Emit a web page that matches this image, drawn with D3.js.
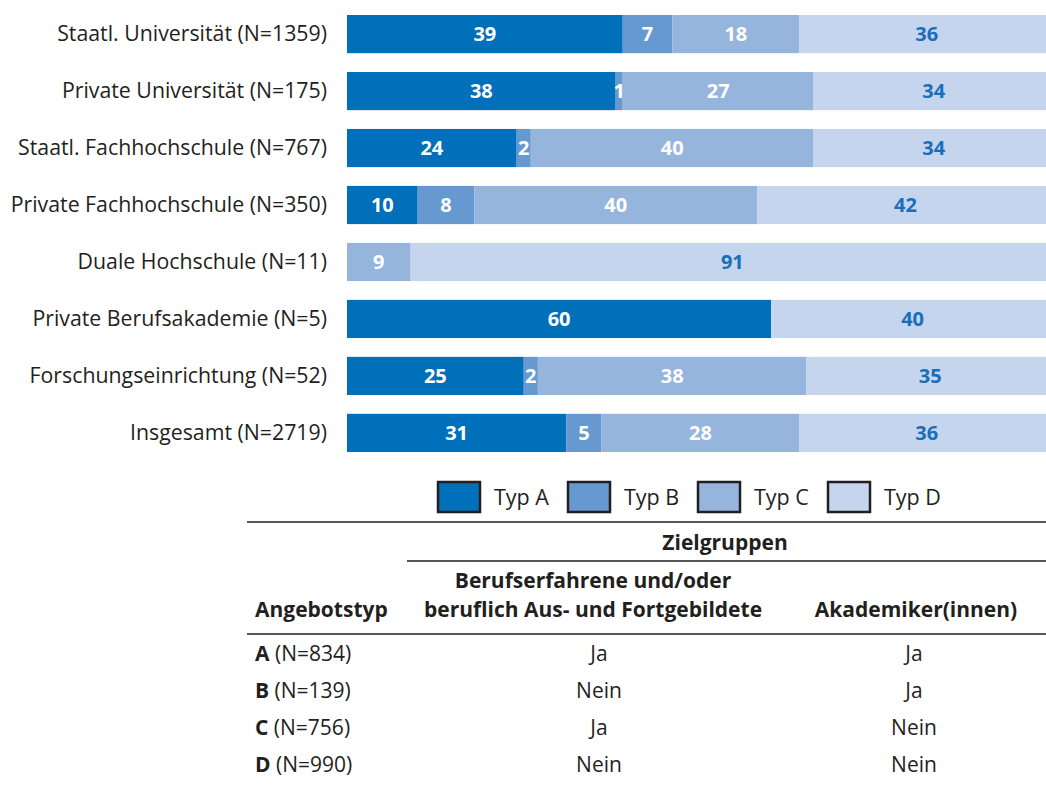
<!DOCTYPE html>
<html>
<head>
<meta charset="utf-8">
<script src="https://cdn.jsdelivr.net/npm/d3@7"></script>
<style>
  body { margin: 0; background: #fff; }
  svg text { font-family: "Open Sans", "Noto Sans", sans-serif; }
</style>
</head>
<body>
<div id="chart"></div>
<script>
// chart data
var categories = [
  "Staatl. Universität (N=1359)",
  "Private Universität (N=175)",
  "Staatl. Fachhochschule (N=767)",
  "Private Fachhochschule (N=350)",
  "Duale Hochschule (N=11)",
  "Private Berufsakademie (N=5)",
  "Forschungseinrichtung (N=52)",
  "Insgesamt (N=2719)"
];
var typA = [39, 38, 24, 10, 0, 60, 25, 31];
var typB = [7, 1, 2, 8, 0, 0, 2, 5];
var typC = [18, 27, 40, 40, 9, 0, 38, 28];
var typD = [36, 34, 34, 42, 91, 40, 35, 36];
var seriesNames = ["Typ A", "Typ B", "Typ C", "Typ D"];

// table data
var angebotstyp = ["A", "B", "C", "D"];
var angebotN = [834, 139, 756, 990];
var berufserfahrene = ["Ja", "Nein", "Ja", "Nein"];
var akademiker = ["Ja", "Ja", "Nein", "Nein"];

var colors = ["#0070ba", "#6699d0", "#96b5dd", "#c6d5ee"];
var labelColors = ["#fff", "#fff", "#fff", "#1a6fb8"];

var width = 1046, height = 785;

var svg = d3.select("#chart").append("svg")
    .attr("width", width)
    .attr("height", height);

// scales
var x = d3.scaleLinear().domain([0, 100]).range([347, 1054]);
var y = d3.scaleBand().domain(categories).range([15, 452]).paddingInner(0.33).paddingOuter(0);

var rows = categories.map(function(c, i) {
  return { cat: c, A: typA[i], B: typB[i], C: typC[i], D: typD[i] };
});
var stack = d3.stack().keys(["A", "B", "C", "D"])(rows);

// bars
var layer = svg.append("g").selectAll("g")
  .data(stack)
  .join("g")
    .attr("fill", function(d, i) { return colors[i]; });

layer.selectAll("rect")
  .data(function(d) { return d; })
  .join("rect")
    .attr("x", function(d) { return x(d[0]); })
    .attr("y", function(d) { return y(d.data.cat); })
    .attr("width", function(d) { return x(d[1]) - x(d[0]); })
    .attr("height", y.bandwidth());

// value labels
stack.forEach(function(s, i) {
  svg.append("g").selectAll("text")
    .data(s.filter(function(d) { return d[1] - d[0] > 0; }))
    .join("text")
      .attr("x", function(d) { return (x(d[0]) + x(d[1])) / 2; })
      .attr("y", function(d) { return y(d.data.cat) + y.bandwidth() / 2; })
      .attr("dy", "0.36em")
      .attr("text-anchor", "middle")
      .attr("fill", labelColors[i])
      .style("font-weight", "bold")
      .style("font-size", "20px")
      .text(function(d) { return d[1] - d[0]; });
});

// category axis
var yAxis = svg.append("g")
    .attr("transform", "translate(345,0)")
    .call(d3.axisLeft(y).tickSize(0).tickPadding(18));
yAxis.select(".domain").remove();
yAxis.selectAll("text")
    .attr("fill", "#231f20")
    .style("font-family", "'Open Sans', sans-serif")
    .style("font-size", "21.3px");

// legend
var legend = svg.append("g").selectAll("g")
  .data(seriesNames)
  .join("g")
    .attr("transform", function(d, i) { return "translate(" + (438 + i * 130) + ",482)"; });
legend.append("rect")
    .attr("width", 42)
    .attr("height", 30)
    .attr("fill", function(d, i) { return colors[i]; })
    .attr("stroke", "#231f20")
    .attr("stroke-width", 2.5);
legend.append("text")
    .attr("x", 56)
    .attr("y", 15)
    .attr("dy", "0.36em")
    .attr("fill", "#231f20")
    .style("font-size", "21.5px")
    .text(function(d) { return d; });

// table
var t = svg.append("g").attr("fill", "#231f20").style("font-size", "21px");
t.append("line").attr("x1", 247).attr("x2", 1046).attr("y1", 522).attr("y2", 522)
    .attr("stroke", "#231f20").attr("stroke-width", 1.5);
t.append("text").attr("x", 725).attr("y", 550).attr("text-anchor", "middle")
    .style("font-weight", "bold").text("Zielgruppen");
t.append("line").attr("x1", 407).attr("x2", 1046).attr("y1", 561).attr("y2", 561)
    .attr("stroke", "#231f20").attr("stroke-width", 1.5);
t.append("text").attr("x", 593).attr("y", 588).attr("text-anchor", "middle")
    .style("font-weight", "bold").text("Berufserfahrene und/oder");
t.append("text").attr("x", 593).attr("y", 617).attr("text-anchor", "middle")
    .style("font-weight", "bold").text("beruflich Aus- und Fortgebildete");
t.append("text").attr("x", 255).attr("y", 617)
    .style("font-weight", "bold").text("Angebotstyp");
t.append("text").attr("x", 916).attr("y", 617).attr("text-anchor", "middle")
    .style("font-weight", "bold").text("Akademiker(innen)");
t.append("line").attr("x1", 247).attr("x2", 1046).attr("y1", 634).attr("y2", 634)
    .attr("stroke", "#231f20").attr("stroke-width", 1.5);

var rowY = d3.scalePoint().domain(angebotstyp).range([661, 772]);
angebotstyp.forEach(function(a, i) {
  var lab = t.append("text").attr("x", 255).attr("y", rowY(a));
  lab.append("tspan").style("font-weight", "bold").text(a);
  lab.append("tspan").text(" (N=" + angebotN[i] + ")");
  t.append("text").attr("x", 599).attr("y", rowY(a)).attr("text-anchor", "middle").text(berufserfahrene[i]);
  t.append("text").attr("x", 914).attr("y", rowY(a)).attr("text-anchor", "middle").text(akademiker[i]);
});
</script>
</body>
</html>
